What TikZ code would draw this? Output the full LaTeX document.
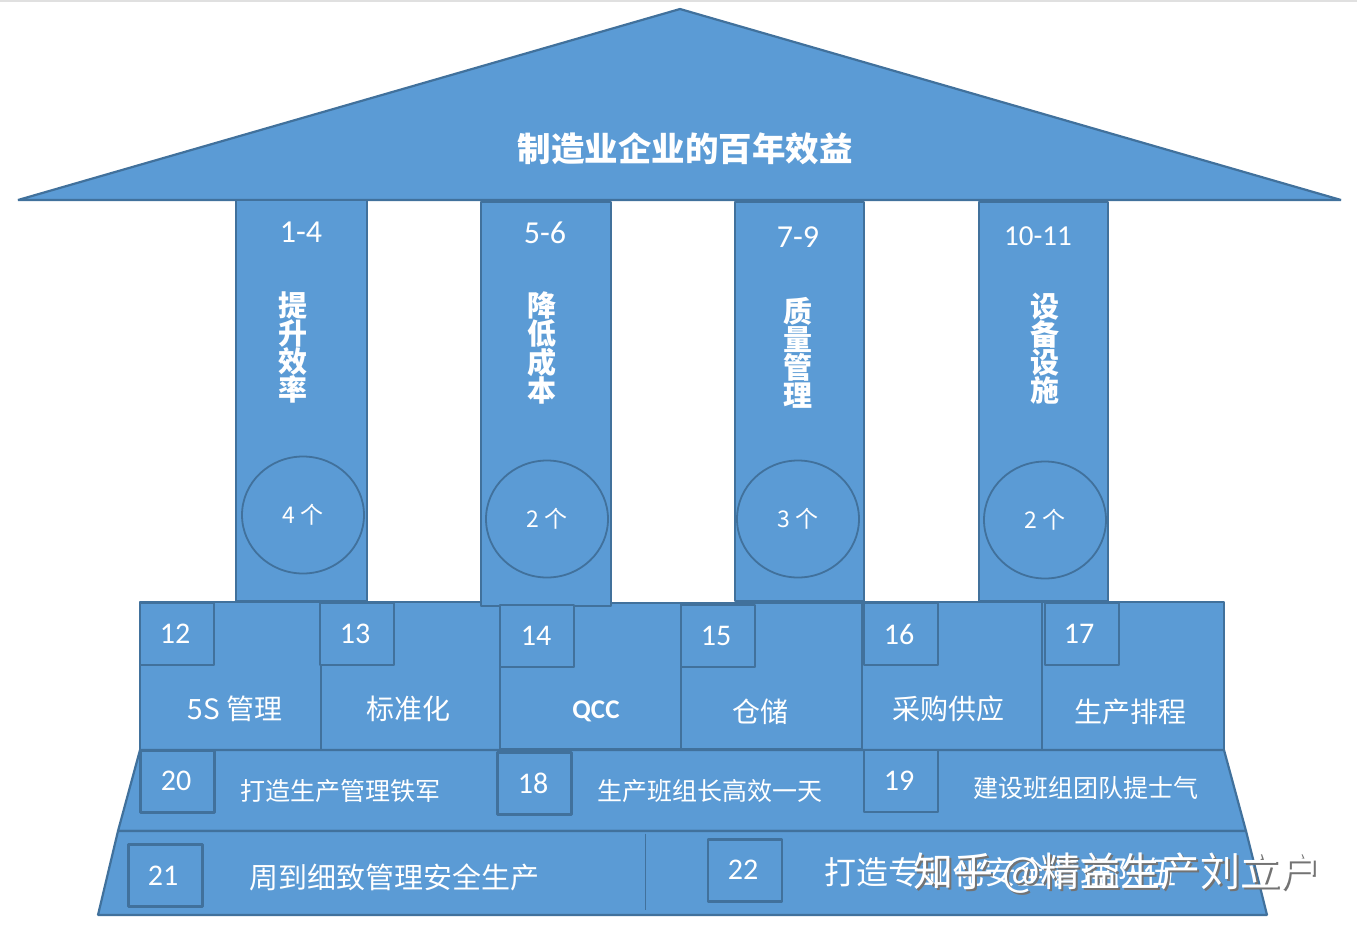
\documentclass[tikz,border=0pt]{standalone}
\usepackage{fontspec}
\setmainfont{Carlito}
\newfontfamily\cjk{Noto Sans CJK SC}
\definecolor{fillblue}{HTML}{5B9BD5}
\definecolor{lineblue}{HTML}{41719C}
\tikzstyle{s} = [draw=lineblue, fill=fillblue, line width=2.2pt, line join=bevel]
\tikzstyle{b} = [rectangle, s, inner sep=0pt]
\tikzstyle{k} = [b, minimum width=74pt, minimum height=62pt]
\tikzstyle{c} = [ellipse, draw=lineblue, line width=1.8pt, minimum width=122pt, minimum height=117pt, inner sep=0pt, text=white, font=\fontsize{23}{23}\cjk]
\tikzstyle{n} = [text=white, inner sep=0pt, font=\fontsize{32}{32}\selectfont]
\tikzstyle{t} = [text=white, inner sep=0pt, font=\fontsize{28}{28}\cjk]
\tikzstyle{u} = [t, font=\fontsize{25}{25}\cjk]
\tikzstyle{v} = [text=white, inner sep=0pt, align=center, font=\fontsize{29}{28}\cjk\bfseries]
\usetikzlibrary{shapes.geometric}

\begin{document}
\begin{tikzpicture}[x=1pt, y=-1pt]
	\useasboundingbox (0,0) rectangle (1357,930);
	\fill [black!12] (0,0) rectangle (1357,2);

	% roof
	\node [inner sep=0pt] (apex) at (680,9) {};
	\draw [s] (apex.center) -- (1341,200) -- (18,200) -- cycle;
	\node [t, font=\fontsize{33.5}{33.5}\cjk\bfseries] (roof) at (685,149) {制造业企业的百年效益};

	% base
	\node [b, minimum width=181pt, minimum height=148pt] (a1) at (230.5,676) {};
	\node [b, minimum width=179pt, minimum height=148pt] (a2) at (410.5,676) {};
	\node [b, minimum width=181pt, minimum height=146pt] (a3) at (590.5,676) {};
	\node [b, minimum width=181pt, minimum height=146pt] (a4) at (771.5,676) {};
	\node [b, minimum width=180pt, minimum height=148pt] (a5) at (952,676) {};
	\node [b, minimum width=182pt, minimum height=148pt] (a6) at (1133,676) {};

	% columns
	\node [b, minimum width=131pt, minimum height=401pt] (p1) at (301.5,400.5) {};
	\node [b, minimum width=130pt, minimum height=404pt] (p2) at (546,404) {};
	\node [b, minimum width=129pt, minimum height=399pt] (p3) at (799.5,401.5) {};
	\node [b, minimum width=129pt, minimum height=399pt] (p4) at (1043.5,401.5) {};
	\node [n] (r1) at (301,232) {1-4};
	\node [n] (r2) at (545,233) {5-6};
	\node [n] (r3) at (798,237) {7-9};
	\node [n, font=\fontsize{29}{29}\selectfont] (r4) at (1038,236) {10-11};
	\node [v] (v1) at (293,347) {提\\升\\效\\率};
	\node [v] (v2) at (542,348) {降\\低\\成\\本};
	\node [v] (v3) at (798,353) {质\\量\\管\\理};
	\node [v] (v4) at (1045,349) {设\\备\\设\\施};
	\node [c] (c1) at (303,515) {4 个};
	\node [c] (c2) at (547,519) {2 个};
	\node [c] (c3) at (798,519) {3 个};
	\node [c] (c4) at (1045,520) {2 个};

	% small boxes on the base
	\node [k] (k12) at (177,634) {};
	\node [k] (k13) at (357,634) {};
	\node [k] (k14) at (537,636) {};
	\node [k] (k15) at (718,636) {};
	\node [k] (k16) at (901,634) {};
	\node [k] (k17) at (1082,634) {};
	\node [n, font=\fontsize{30}{30}\selectfont] (n12) at (175,634) {12};
	\node [n, font=\fontsize{30}{30}\selectfont] (n13) at (355,634) {13};
	\node [n, font=\fontsize{30}{30}\selectfont] (n14) at (536,636) {14};
	\node [n, font=\fontsize{30}{30}\selectfont] (n15) at (716,636) {15};
	\node [n, font=\fontsize{30}{30}\selectfont] (n16) at (899,634) {16};
	\node [n, font=\fontsize{30}{30}\selectfont] (n17) at (1079,634) {17};
	\node [t] (t12) at (235,709) {5S 管理};
	\node [t] (t13) at (408,709) {标准化};
	\node [t, font=\fontsize{27}{27}\selectfont\bfseries] (t14) at (596,711) {QCC};
	\node [t] (t15) at (760,712) {仓储};
	\node [t] (t16) at (948,709) {采购供应};
	\node [t] (t17) at (1130,712) {生产排程};

	% lower steps
	\draw [s] (140,750) -- (1224,750) -- (1246,831) -- (118,831) -- cycle;
	\draw [s] (118,831) -- (1246,831) -- (1267,915) -- (98,915) -- cycle;
	\node [inner sep=0pt] (d1) at (645,833) {};
	\node [inner sep=0pt] (d2) at (645,911) {};
	\draw [draw=lineblue, line width=1pt] (d1) -- (d2);
	\node [k] (k20) at (177.5,781.5) {};
	\node [k] (k18) at (534.5,783.5) {};
	\node [k] (k19) at (901,781) {};
	\node [k] (k21) at (165.5,875.5) {};
	\node [k] (k22) at (745,870.5) {};
	\node [n, font=\fontsize{30}{30}\selectfont] (n20) at (176,781) {20};
	\node [n, font=\fontsize{30}{30}\selectfont] (n18) at (533,783) {18};
	\node [n, font=\fontsize{30}{30}\selectfont] (n19) at (899,781) {19};
	\node [n, font=\fontsize{30}{30}\selectfont] (n21) at (163,876) {21};
	\node [n, font=\fontsize{30}{30}\selectfont] (n22) at (743,870) {22};
	\node [u] (t20) at (340,791) {打造生产管理铁军};
	\node [u] (t18) at (710,791) {生产班组长高效一天};
	\node [u] (t19) at (1086,788) {建设班组团队提士气};
	\node [t, font=\fontsize{29}{29}\cjk] (t21) at (394,877) {周到细致管理安全生产};
	\node [t, font=\fontsize{32}{32}\cjk] (t22) at (1000,872) {打造专业化安全管理队伍};

	% watermark
	\node [text=black!55, inner sep=0pt, font=\fontsize{40}{40}\cjk] (w0) at (1119,875) {知乎 @精益生产刘立户};
	\node [text=white, inner sep=0pt, font=\fontsize{40}{40}\cjk] (w1) at (1117,873) {知乎 @精益生产刘立户};
\end{tikzpicture}
\end{document}
